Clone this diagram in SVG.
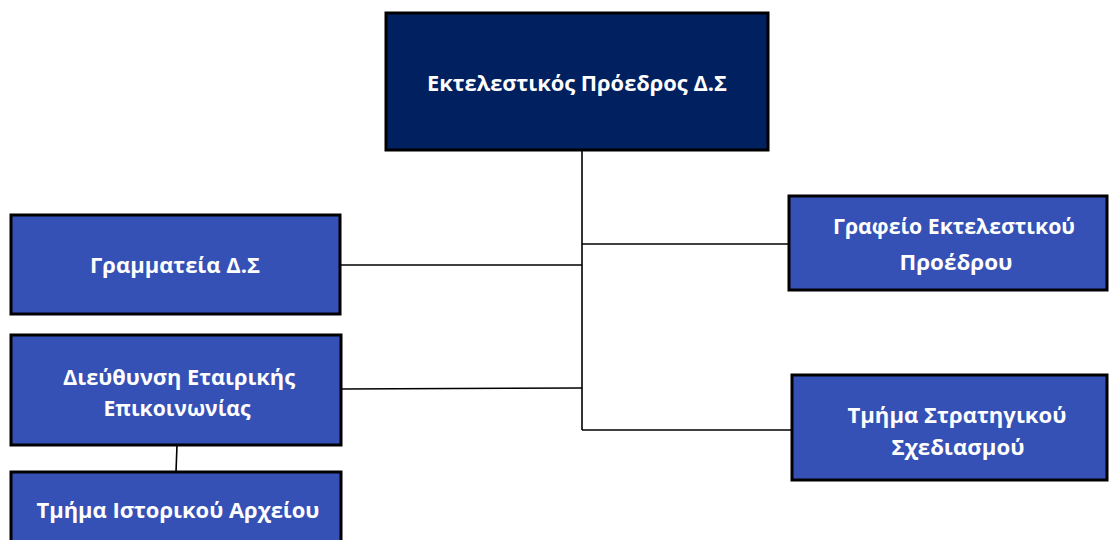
<svg xmlns="http://www.w3.org/2000/svg" width="1110" height="540" viewBox="0 0 1110 540">
<style>
.box{fill:#3651B5;stroke:#000;stroke-width:3}
.top{fill:#002060;stroke:#000;stroke-width:3}
.t{font-family:"Open Sans","Noto Sans","Liberation Sans",sans-serif;font-weight:bold;font-size:21.5px;fill:#fff;text-anchor:middle}
.c{stroke:#000;stroke-width:1.6;fill:none}
</style>
<rect width="1110" height="540" fill="#fff"/>
<g id="connectors">
<line class="c" x1="582" y1="150" x2="582" y2="430"/>
<line class="c" x1="582" y1="244" x2="789" y2="244"/>
<line class="c" x1="340" y1="265" x2="582" y2="265"/>
<line class="c" x1="341" y1="389" x2="582" y2="388"/>
<line class="c" x1="582" y1="430" x2="792" y2="430"/>
<line class="c" x1="177" y1="445" x2="176" y2="472"/>
</g>
<g id="n-president">
<rect class="top" x="386" y="13" width="382" height="137"/>
<text class="t" x="577" y="91" textLength="300" lengthAdjust="spacingAndGlyphs">Εκτελεστικός Πρόεδρος Δ.Σ</text>
</g>
<g id="n-secretariat">
<rect class="box" x="11" y="215" width="329" height="99"/>
<text class="t" x="175" y="273" textLength="170" lengthAdjust="spacingAndGlyphs">Γραμματεία Δ.Σ</text>
</g>
<g id="n-communication">
<rect class="box" x="11" y="335" width="330" height="110"/>
<text class="t" x="179" y="385" textLength="232" lengthAdjust="spacingAndGlyphs">Διεύθυνση Εταιρικής</text>
<text class="t" x="177" y="416" textLength="147" lengthAdjust="spacingAndGlyphs">Επικοινωνίας</text>
</g>
<g id="n-archive">
<rect class="box" x="11" y="472" width="330" height="80"/>
<text class="t" x="178" y="518" textLength="283" lengthAdjust="spacingAndGlyphs">Τμήμα Ιστορικού Αρχείου</text>
</g>
<g id="n-office">
<rect class="box" x="789" y="196" width="318" height="94"/>
<text class="t" x="954" y="234" textLength="242" lengthAdjust="spacingAndGlyphs">Γραφείο Εκτελεστικού</text>
<text class="t" x="956" y="270" textLength="113" lengthAdjust="spacingAndGlyphs">Προέδρου</text>
</g>
<g id="n-strategy">
<rect class="box" x="792" y="375" width="315" height="105"/>
<text class="t" x="957" y="423" textLength="219" lengthAdjust="spacingAndGlyphs">Τμήμα Στρατηγικού</text>
<text class="t" x="958" y="455" textLength="133" lengthAdjust="spacingAndGlyphs">Σχεδιασμού</text>
</g>
</svg>
